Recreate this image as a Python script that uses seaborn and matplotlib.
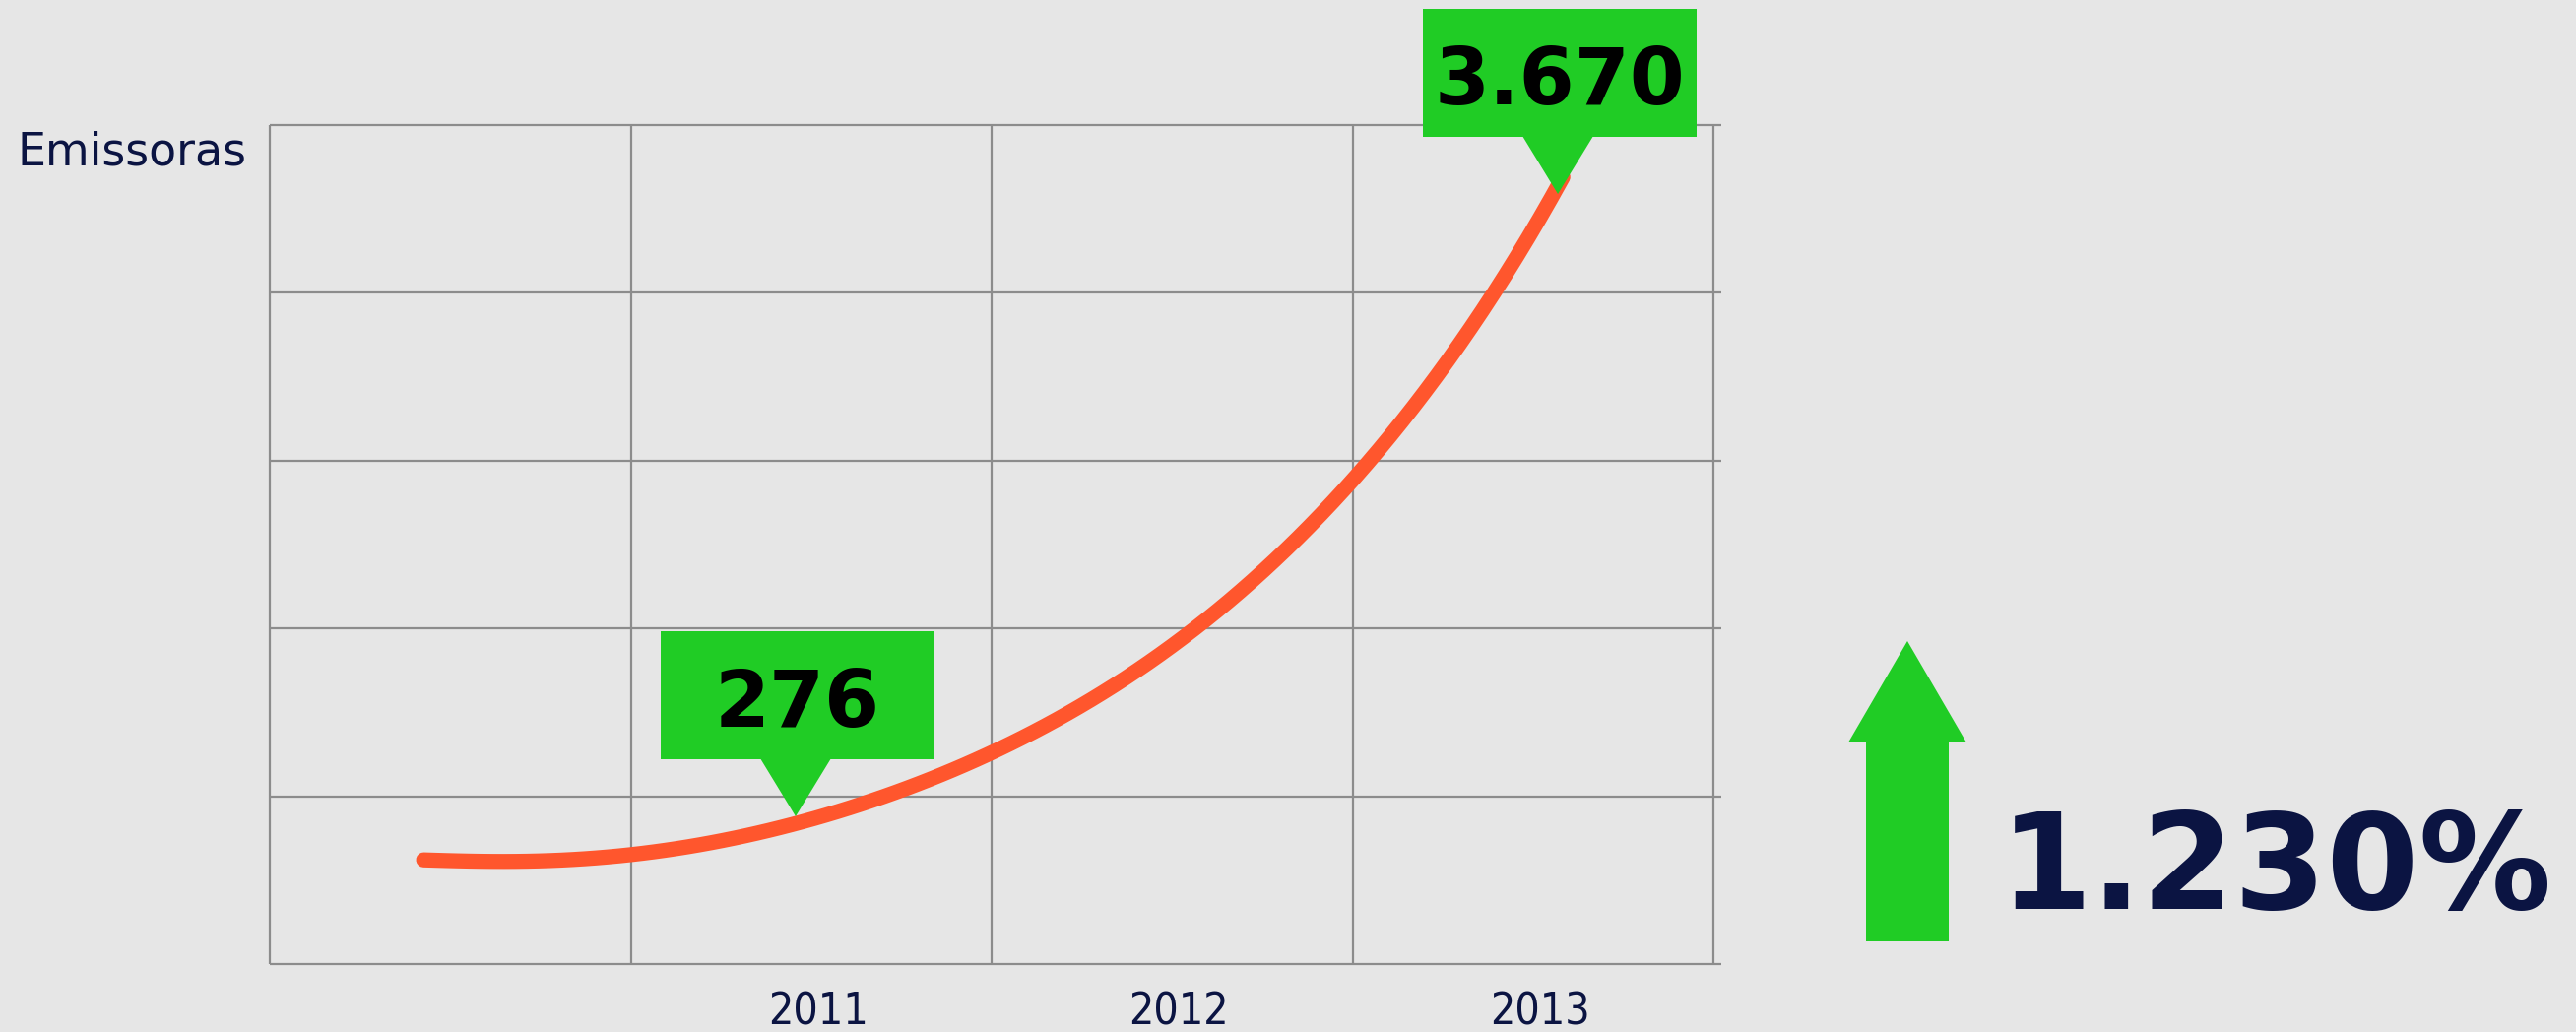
import matplotlib
matplotlib.use("Agg")
import matplotlib.pyplot as plt
import seaborn as sns
import pandas as pd
from matplotlib.patches import Rectangle, Polygon
from matplotlib.transforms import IdentityTransform, ScaledTranslation

# ---------------- data ----------------
curve_year = [2009.926, 2010.038, 2010.177, 2010.316, 2010.512, 2010.733, 2010.957,
              2011.151, 2011.290, 2011.511, 2011.707, 2011.847, 2011.986, 2012.059,
              2012.212, 2012.359, 2012.485, 2012.540, 2012.632, 2012.731, 2012.823,
              2012.894, 2012.954, 2013.001, 2013.055, 2013.083]
curve_level = [0.624, 0.610, 0.609, 0.624, 0.659, 0.728, 0.835,
               0.956, 1.064, 1.278, 1.498, 1.674, 1.872, 1.988,
               2.259, 2.557, 2.843, 2.981, 3.232, 3.509, 3.785,
               4.002, 4.196, 4.372, 4.583, 4.701]
year_ticks = [2011, 2012, 2013]
year_labels = ["2011", "2012", "2013"]
column_edges = [2009.5, 2010.5, 2011.5, 2012.5, 2013.5]
row_levels = [0, 1, 2, 3, 4, 5]
callout_year = [2010.957, 2013.069]
callout_level = [0.880, 4.589]
callout_labels = ["276", "3.670"]
growth_label = "1.230%"
y_axis_label = "Emissoras"

# ---------------- style ----------------
BG = "#e6e6e6"
GRID = "#8c8c8c"
ORANGE = "#ff562d"
GREEN = "#20cc25"
NAVY = "#0b1442"

sns.set_theme(style="white")
plt.rcParams["font.family"] = ["DejaVu Sans"]

W, H = 2616, 1048
fig = plt.figure(figsize=(W / 100, H / 100), dpi=100, facecolor=BG)
ax = fig.add_axes([274 / W, (H - 979) / H, 1474 / W, 852 / H])
ax.set_facecolor(BG)

# x measured in years from the first column edge (keeps the fit well conditioned)
x0 = column_edges[0]
df = pd.DataFrame({"pos": [y - x0 for y in curve_year], "level": curve_level})
edges = [e - x0 for e in column_edges]
xmax = 1474 / 366.5

# smooth spline-like curve drawn by seaborn's own polynomial fit through the read points
sns.regplot(data=df, x="pos", y="level", ax=ax, order=7, ci=None, scatter=False,
            truncate=True,
            line_kws=dict(color=ORANGE, linewidth=11, solid_capstyle="round",
                          zorder=3))

ax.hlines(row_levels, 0, xmax, colors=GRID, linewidth=1.6, clip_on=False, zorder=1)
ax.vlines(edges, row_levels[0], row_levels[-1], colors=GRID, linewidth=1.6,
          clip_on=False, zorder=1)

ax.set_xlim(0, xmax)
ax.set_ylim(row_levels[0], row_levels[-1])
for s in ax.spines.values():
    s.set_visible(False)
ax.set_yticks([])
ax.set_xticks([t - x0 for t in year_ticks], year_labels)
ax.tick_params(axis="x", length=0, pad=20, labelsize=32, labelcolor=NAVY)
shift = ScaledTranslation(7 / 100, 0, fig.dpi_scale_trans)
for lab in ax.get_xticklabels():
    lab.set_fontstretch("condensed")
    lab.set_transform(lab.get_transform() + shift)
ax.set_xlabel("")
ax.set_ylabel("")

# y-axis title
fig.text(17 / W, (H - 168) / H, y_axis_label, fontsize=33, color=NAVY,
         ha="left", va="baseline")

# callouts
ident = IdentityTransform()
for cx, cy, lab in zip(callout_year, callout_level, callout_labels):
    tx, ty = ax.transData.transform((cx - x0, cy))
    fig.add_artist(Rectangle((tx - 137, ty + 58), 278, 130, transform=ident,
                             facecolor=GREEN, edgecolor="none", zorder=5))
    fig.add_artist(Polygon([(tx - 36, ty + 59), (tx + 36, ty + 59), (tx, ty)],
                           closed=True, transform=ident, facecolor=GREEN,
                           edgecolor="none", zorder=5))
    fig.text(tx + 2, ty + 91.5, lab, transform=ident, ha="center", va="baseline",
             fontsize=58, fontweight="bold", color="black", zorder=6)

# growth arrow
arrow_pts = [(1937, 651), (1997, 754), (1979, 754), (1979, 956), (1895, 956),
             (1895, 754), (1877, 754)]
fig.add_artist(Polygon([(x, H - y) for x, y in arrow_pts], closed=True,
                       transform=ident, facecolor=GREEN, edgecolor="none", zorder=5))
fig.text(2031 / W, (H - 923) / H, growth_label, fontsize=97, fontweight="bold",
         color=NAVY, ha="left", va="baseline")

fig.savefig("out.png", dpi=100, facecolor=BG)
